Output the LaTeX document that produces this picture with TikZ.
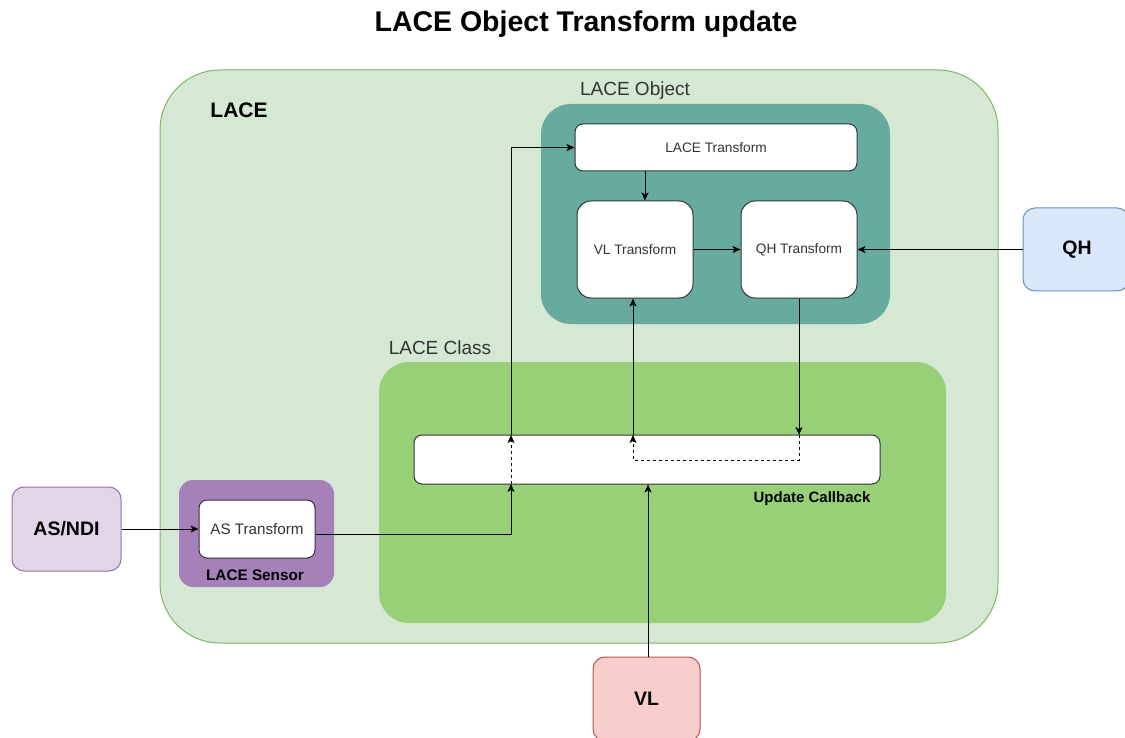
\documentclass[tikz,border=0pt]{standalone}
\usepackage{fontspec}
\setmainfont{Liberation Sans}
\usepackage{tikz}
\usepackage{xcolor}
\usetikzlibrary{arrows.meta,calc,positioning}
\definecolor{lacefill}{HTML}{D5E8D4}
\definecolor{laceline}{HTML}{82B366}
\definecolor{objfill}{HTML}{67AB9F}
\definecolor{classfill}{HTML}{97D077}
\definecolor{sensfill}{HTML}{A680B8}
\definecolor{asfill}{HTML}{E1D5E7}
\definecolor{asline}{HTML}{9673A6}
\definecolor{qhfill}{HTML}{DAE8FC}
\definecolor{qhline}{HTML}{6C8EBF}
\definecolor{vlfill}{HTML}{F8CECC}
\definecolor{vlline}{HTML}{B85450}
\definecolor{txtgray}{HTML}{333333}

\begin{document}
\begin{tikzpicture}[x=1pt,y=-1pt,
    >={Stealth[length=8pt,width=7pt,inset=2pt]},
    conn/.style={->,line width=1pt},
    group/.style={rounded corners=30pt,inner sep=0pt},
    inbox/.style={draw=txtgray,fill=white,line width=1pt,rounded corners=8pt,inner sep=0pt,
      text=txtgray,font=\fontsize{13.7}{16}\selectfont},
    outbox/.style={draw,line width=1pt,rounded corners=12pt,inner sep=0pt,
      minimum width=107pt,minimum height=84pt,font=\bfseries\fontsize{19.5}{23}\selectfont}]
  \useasboundingbox (0,0) rectangle (1125,738);
  \begin{scope}
  \clip (0,0) rectangle (1125,738);
  % title
  \node[font=\bfseries\fontsize{28.5}{32}\selectfont] (title) at (586,24) {LACE Object Transform update};
  % outer LACE
  \node[group,draw=laceline,fill=lacefill,line width=1pt,rounded corners=60pt,
    minimum width=838pt,minimum height=573pt] (lace) at (579,356.5) {};
  \node[font=\bfseries\fontsize{21}{24}\selectfont] (lacelbl) at (239,110) {LACE};
  % LACE Object
  \node[group,fill=objfill,minimum width=349pt,minimum height=220pt] (laceobj) at (715.5,214) {};
  \node[text=txtgray,font=\fontsize{19}{22}\selectfont] (objlbl) at (635,91) {LACE Object};
  \node[inbox,minimum width=282pt,minimum height=47pt] (lacetf) at (716,147.5) {LACE Transform};
  \node[inbox,rounded corners=14pt,minimum width=116pt,minimum height=97pt] (vltf) at (635,249.5) {VL Transform};
  \node[inbox,rounded corners=14pt,minimum width=116pt,minimum height=97pt] (qhtf) at (799,249.5) {QH Transform};
  % LACE Class
  \node[group,fill=classfill,minimum width=567pt,minimum height=261pt] (laceclass) at (662.5,492.5) {};
  \node[text=txtgray,font=\fontsize{19}{22}\selectfont] (classlbl) at (440,348) {LACE Class};
  \node[inbox,minimum width=466pt,minimum height=49pt] (callback) at (647,459.5) {};
  \node[font=\bfseries\fontsize{15}{18}\selectfont] (cblbl) at (812,498.5) {Update Callback};
  % LACE Sensor
  \node[group,rounded corners=14pt,fill=sensfill,minimum width=155pt,minimum height=107pt] (sensor) at (256.5,533.5) {};
  \node[inbox,font=\fontsize{15.2}{18}\selectfont,minimum width=116pt,minimum height=58pt] (astf) at (257,529) {AS Transform};
  \node[font=\bfseries\fontsize{15.3}{18}\selectfont] (senslbl) at (255,575) {LACE Sensor};
  % outside sources
  \node[outbox,draw=asline,fill=asfill,minimum width=109pt] (asndi) at (66.5,529) {AS/NDI};
  \node[outbox,draw=qhline,fill=qhfill,minimum width=106pt,minimum height=83pt] (qh) at (1076,249.5) {\hspace*{2pt}QH};
  \node[outbox,draw=vlline,fill=vlfill] (vl) at (646.5,699) {VL};
  % pass points
  \coordinate (asin) at (511,484);
  \coordinate (asout) at (511,435);
  \coordinate (tfdown) at (645,0);
  \coordinate (qhin) at (799,435);
  \coordinate (vlret) at (633,435);
  \coordinate (vlup) at (648,0);
  % connectors
  \draw[conn] (asndi.east) -- (astf.west);
  \draw[conn] (astf.east) ++(0,5) -| (asin);
  \draw[conn,dashed,line width=0.8pt] (asin) -- (asout);
  \draw[conn] (asout) |- (lacetf.west);
  \draw[conn] (lacetf.south -| tfdown) -- (vltf.north -| tfdown);
  \draw[conn] (vltf.east) -- (qhtf.west);
  \draw[conn] (qh.west) -- (qhtf.east);
  \draw[conn] (qhtf.south) -- (qhin);
  \draw[conn,dashed,line width=0.8pt] (qhin) -- ++(0,25) -| (vlret);
  \draw[conn] (vlret) -- (vltf.south -| vlret);
  \draw[conn] (vl.north -| vlup) -- (callback.south -| vlup);
  \end{scope}
\end{tikzpicture}
\end{document}
